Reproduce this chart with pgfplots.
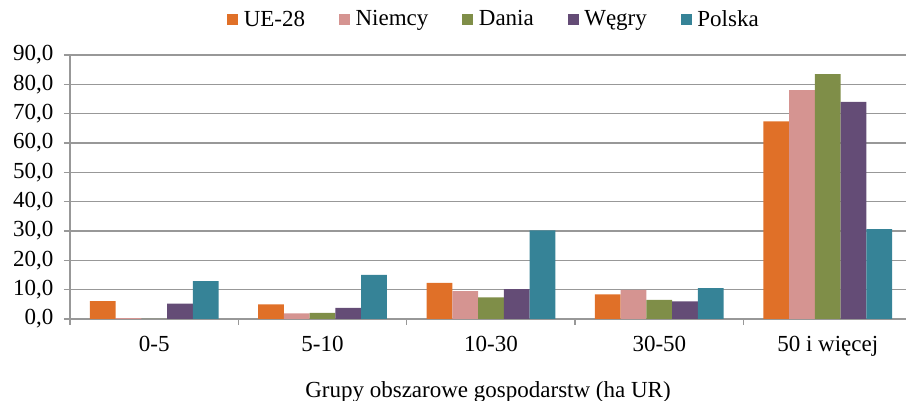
\documentclass[border=0pt]{standalone}
\usepackage{fontspec}
\setmainfont{Liberation Serif}
\usepackage{pgfplots}
\pgfplotsset{compat=1.18}
\definecolor{cUE}{RGB}{224,112,40}
\definecolor{cDE}{RGB}{213,148,145}
\definecolor{cDK}{RGB}{127,142,72}
\definecolor{cHU}{RGB}{100,76,118}
\definecolor{cPL}{RGB}{54,131,151}
\definecolor{cGrid}{RGB}{152,152,152}
\newcommand{\bigf}{\fontsize{23}{27}\selectfont}
\begin{document}
\begin{tikzpicture}
\useasboundingbox (-70pt,-82pt) rectangle (836pt,319pt);
\begin{axis}[
  at={(0,0)}, anchor=south west,
  scale only axis, width=836pt, height=264pt,
  xmin=-0.5, xmax=4.465, ymin=0, ymax=90,
  axis x line*=bottom, axis y line*=left,
  axis line style={cGrid, line width=1.3pt},
  ybar,
  bar width=0.153,
  xtick={0,1,2,3,4},
  xticklabels={0-5,5-10,10-30,30-50,50 i więcej},
  major x tick style={draw=none},
  minor xtick={-0.5,0.5,1.5,2.5,3.5},
  minor x tick style={cGrid, line width=1.3pt},
  minor tick length=6pt,
  ytick={0,10,...,90},
  major tick length=6pt,
  y tick style={cGrid, line width=1.3pt},
  tick align=outside,
  ymajorgrids,
  grid style={cGrid, line width=1.3pt},
  ticklabel style={font=\bigf},
  xticklabel style={yshift=-8pt},
  yticklabel style={xshift=-7pt},
  yticklabel={\pgfmathprintnumber[fixed, fixed zerofill, precision=1, use comma, assume math mode=true]{\tick}},
  xlabel={Grupy obszarowe gospodarstw (ha UR)},
  xlabel style={font=\bigf, at={(axis description cs:0.5,0)}, anchor=center, yshift=-73pt},
  legend style={at={(0.506,1.136)}, anchor=center, draw=none, legend columns=5, font=\bigf,
    nodes={inner xsep=0pt},
    /tikz/every odd column/.append style={column sep=5.5pt},
    /tikz/every even column/.append style={column sep=34pt}},
  legend image code/.code={\fill[#1] (0pt,-5.5pt) rectangle (11pt,5.5pt);},
]
\addplot[fill=cUE, draw=none, bar shift=-0.306] coordinates {(0,6.1) (1,5.0) (2,12.3) (3,8.4) (4,67.4)};
\addplot[fill=cDE, draw=none, bar shift=-0.153] coordinates {(0,0.3) (1,1.9) (2,9.5) (3,9.9) (4,78.0)};
\addplot[fill=cDK, draw=none, bar shift=0] coordinates {(0,0.0) (1,2.1) (2,7.4) (3,6.5) (4,83.5)};
\addplot[fill=cHU, draw=none, bar shift=0.153] coordinates {(0,5.2) (1,3.8) (2,10.2) (3,6.0) (4,74.0)};
\addplot[fill=cPL, draw=none, bar shift=0.306] coordinates {(0,12.9) (1,15.0) (2,30.2) (3,10.5) (4,30.6)};
\legend{UE-28,Niemcy,Dania,Węgry,Polska}
\end{axis}
\end{tikzpicture}
\end{document}
